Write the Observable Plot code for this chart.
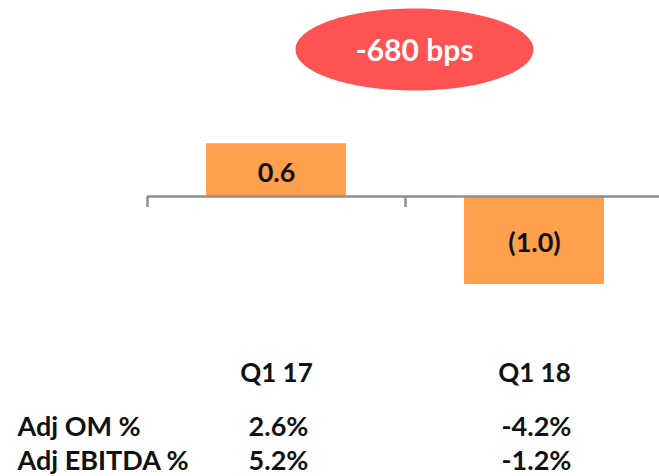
<!DOCTYPE html>
<html>
<head>
<meta charset="utf-8">
<script src="https://cdn.jsdelivr.net/npm/d3@7"></script>
<script src="https://cdn.jsdelivr.net/npm/@observablehq/plot@0.6"></script>
<style>
  html, body { margin: 0; padding: 0; background: #fff; }
  #chart { width: 659px; font-family: Lato, "Open Sans", sans-serif; }
  #chart svg { display: block; }
</style>
</head>
<body>
<div id="chart"></div>
<script>
// ---- data ----
const periods = ["Q1 17", "Q1 18"];
const barValues = [0.6, -1.0];
const rowLabels = ["Adj OM %", "Adj EBITDA %"];
const adjOM = [2.6, -4.2];
const adjEBITDA = [5.2, -1.2];

const orange = "#FFA04D";
const red = "#FF5252";
const axisGray = "#8f8f8f";

const bars = periods.map((p, i) => ({period: p, value: barValues[i]}));
const fmtBar = v => v < 0 ? `(${Math.abs(v).toFixed(1)})` : v.toFixed(1);
const deltaBps = Math.round((adjOM[1] - adjOM[0]) * 100);
const badge = [{label: `${deltaBps} bps`}];

// ellipse symbol for the badge
const ellipse = {
  draw(context) {
    const rx = 119, ry = 41, k = 0.5523;
    context.moveTo(rx, 0);
    context.bezierCurveTo(rx, ry * k, rx * k, ry, 0, ry);
    context.bezierCurveTo(-rx * k, ry, -rx, ry * k, -rx, 0);
    context.bezierCurveTo(-rx, -ry * k, -rx * k, -ry, 0, -ry);
    context.bezierCurveTo(rx * k, -ry, rx, -ry * k, rx, 0);
    context.closePath();
  }
};

const xScale = {type: "band", domain: periods, range: [147, 663], paddingInner: 0.457, paddingOuter: 0.2285};

const chart = Plot.plot({
  width: 659,
  height: 392,
  marginLeft: 147,
  marginRight: 0,
  marginTop: 0,
  marginBottom: 30,
  style: {background: "#fff", fontFamily: "Lato, 'Open Sans', sans-serif", color: "#000"},
  x: xScale,
  y: {domain: [-1.886, 2.227], axis: null},
  marks: [
    Plot.barY(bars, {x: "period", y: "value", fill: orange}),
    Plot.ruleY([0], {stroke: axisGray, strokeWidth: 2.5}),
    Plot.ruleX(periods, {x: d => d, dx: -129, y1: 0, y2: -0.125, stroke: axisGray, strokeWidth: 2.5}),
    Plot.text(bars, {x: "period", y: d => d.value / 2, text: d => fmtBar(d.value), fontSize: 27, fontWeight: "bold", fill: "#111", dy: 3}),
    Plot.dot(badge, {frameAnchor: "top", dx: 11, dy: 49, symbol: ellipse, r: 1, fill: red, stroke: "none"}),
    Plot.text(badge, {frameAnchor: "top", lineAnchor: "middle", dx: 11, dy: 51, text: "label", fontSize: 30, fontWeight: "bold", fill: "#fff"}),
    Plot.axisX({anchor: "bottom", label: null, tickSize: 0, tickPadding: 1, fontSize: 26, fontWeight: "bold", color: "#111"})
  ]
});

const tableRows = [];
periods.forEach((p, i) => {
  tableRows.push({period: p, row: rowLabels[0], value: adjOM[i]});
  tableRows.push({period: p, row: rowLabels[1], value: adjEBITDA[i]});
});

const table = Plot.plot({
  width: 659,
  height: 84,
  marginLeft: 17,
  marginRight: 0,
  marginTop: 0,
  marginBottom: 0,
  style: {background: "#fff", fontFamily: "Lato, 'Open Sans', sans-serif", color: "#000"},
  x: {...xScale, axis: null},
  y: {type: "point", domain: rowLabels, range: [35, 69], padding: 0, axis: null},
  marks: [
    Plot.text(rowLabels, {y: d => d, text: d => d, frameAnchor: "left", textAnchor: "start", fontSize: 27, fontWeight: "bold", fill: "#111"}),
    Plot.text(tableRows, {x: "period", y: "row", text: d => `${d.value.toFixed(1)}%`, fontSize: 27, fontWeight: "bold", fill: "#111", dx: 2})
  ]
});

document.getElementById("chart").append(chart, table);
</script>
</body>
</html>
